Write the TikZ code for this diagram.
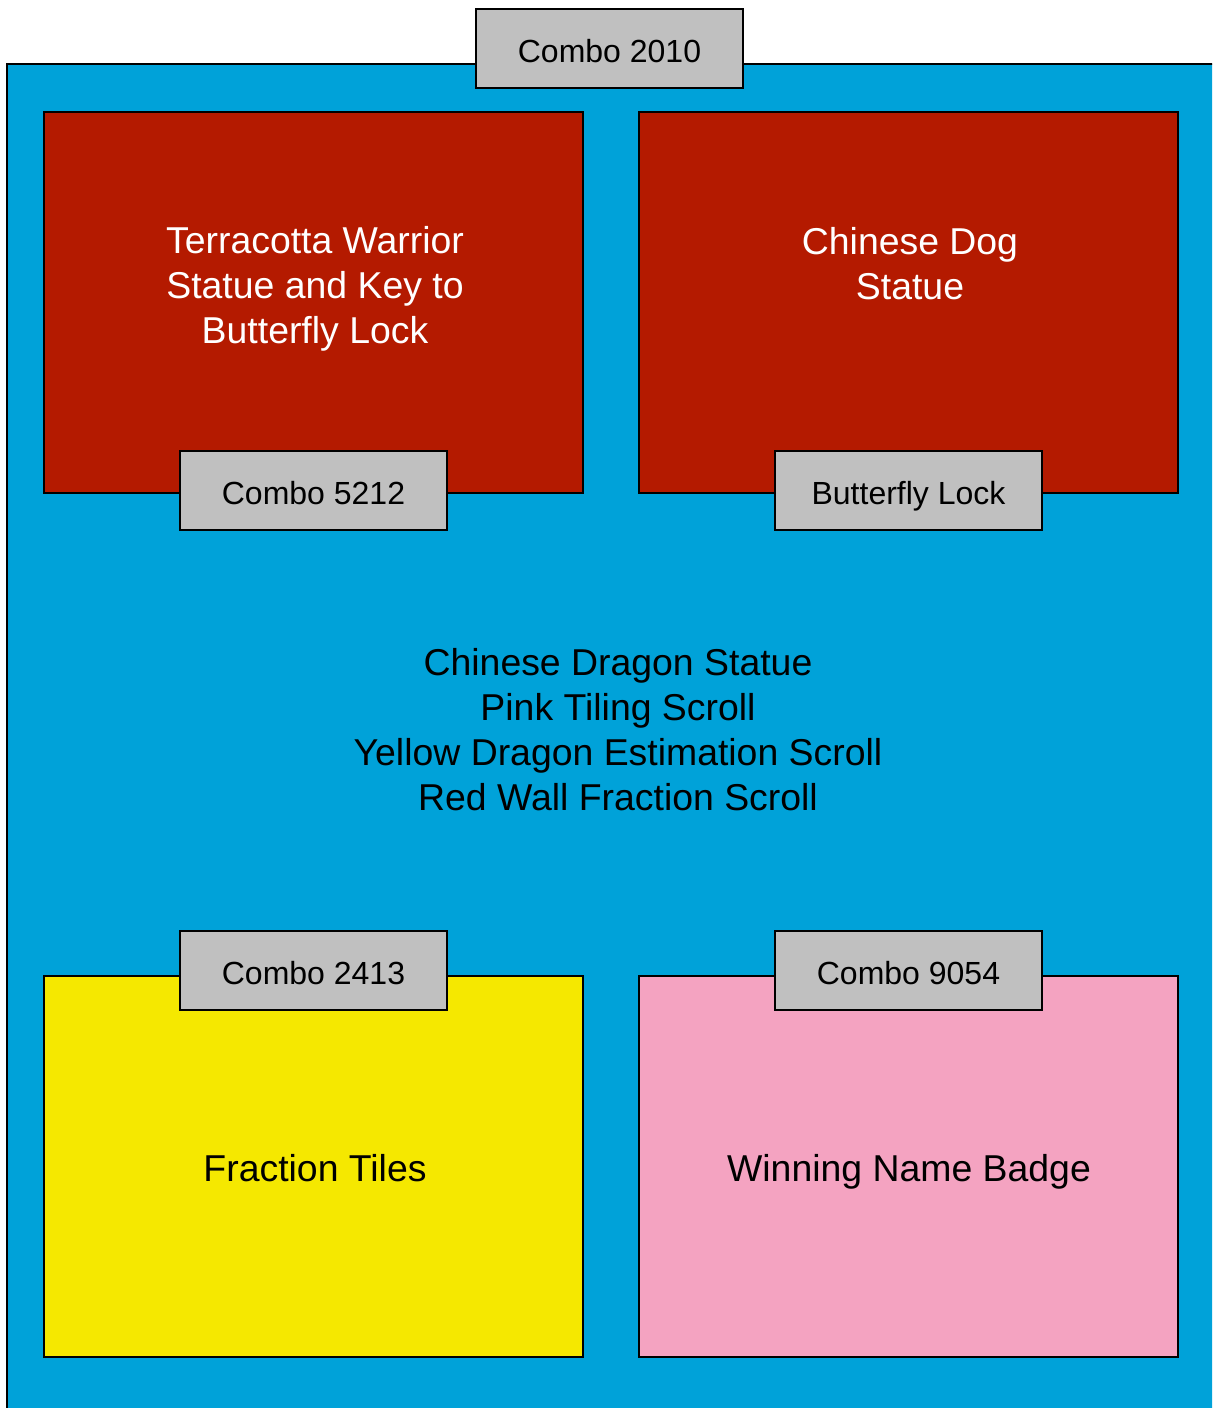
\documentclass[tikz,border=0pt]{standalone}
\usepackage{fontspec}
\setmainfont{Liberation Sans}
\definecolor{bluebg}{RGB}{0,162,217}
\definecolor{redbox}{RGB}{180,26,0}
\definecolor{yellowbox}{RGB}{245,232,0}
\definecolor{pinkbox}{RGB}{244,163,193}
\definecolor{graybox}{RGB}{192,192,192}
\begin{document}
\begin{tikzpicture}[x=0.5pt,y=-0.5pt,
  box/.style={draw=black,line width=1pt,inner sep=0pt,outer sep=0pt},
  tag/.style={box,fill=graybox,minimum width=133.5pt,minimum height=39.5pt,text height=14pt,text depth=0pt,font=\fontsize{16}{19}\selectfont},
  bigtxt/.style={align=center,font=\fontsize{18.7}{22.5}\selectfont,inner sep=0pt},
  onetxt/.style={font=\fontsize{18.7}{22.5}\selectfont,inner sep=0pt,text height=13.4pt,text depth=0pt}]
\useasboundingbox (0,0) rectangle (1212,1408);
\begin{scope}
\clip (0,0) rectangle (1212,1408);
\draw[box,fill=bluebg] (7,64) rectangle (1240,1440);
\end{scope}
\node[tag] (c2010) at (609.5,48) {Combo 2010};
\draw[box,fill=redbox] (44,112) rectangle (583,493) coordinate (r1);
\draw[box,fill=redbox] (639,112) rectangle (1178,493) coordinate (r2);
\draw[box,fill=yellowbox] (44,976) rectangle (583,1357) coordinate (y1);
\draw[box,fill=pinkbox] (639,976) rectangle (1178,1357) coordinate (p1);
\node[tag] (c5212) at (313.5,490.5) {Combo 5212};
\node[tag] (bl) at (908.5,490.5) {Butterfly Lock};
\node[tag] (c2413) at (313.5,970.5) {Combo 2413};
\node[tag] (c9054) at (908.5,970.5) {Combo 9054};
\node[bigtxt,text=white] (t1) at (315,289) {Terracotta Warrior\\Statue and Key to\\Butterfly Lock};
\node[bigtxt,text=white] (t2) at (910,263.5) {Chinese Dog\\Statue};
\node[bigtxt] (mid) at (618,730) {Chinese Dragon Statue\\Pink Tiling Scroll\\Yellow Dragon Estimation Scroll\\Red Wall Fraction Scroll};
\node[onetxt] (ft) at (315,1168) {Fraction Tiles};
\node[onetxt] (wnb) at (909,1168) {Winning Name Badge};
\end{tikzpicture}
\end{document}
